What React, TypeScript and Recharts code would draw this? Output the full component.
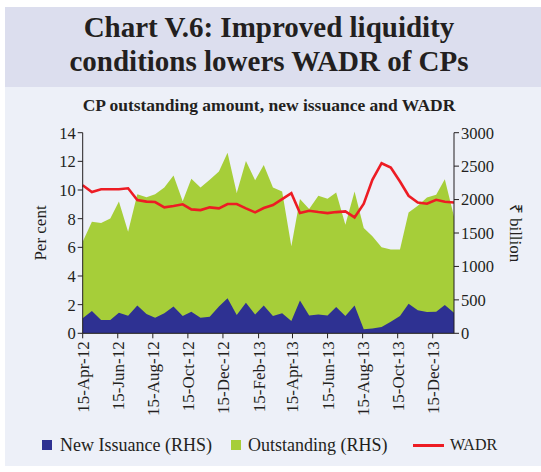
import { ComposedChart, Area, Line, XAxis, YAxis } from "recharts";

// fortnightly observation dates
const dates = [
    "2012-04-15", "2012-05-01", "2012-05-17", "2012-06-02", "2012-06-17", "2012-07-03",
    "2012-07-19", "2012-08-04", "2012-08-19", "2012-09-04", "2012-09-20", "2012-10-06",
    "2012-10-21", "2012-11-06", "2012-11-22", "2012-12-08", "2012-12-23", "2013-01-08",
    "2013-01-24", "2013-02-09", "2013-02-24", "2013-03-12", "2013-03-28", "2013-04-13",
    "2013-04-28", "2013-05-14", "2013-05-30", "2013-06-15", "2013-06-30", "2013-07-16",
    "2013-08-01", "2013-08-17", "2013-09-01", "2013-09-17", "2013-10-03", "2013-10-19",
    "2013-11-03", "2013-11-19", "2013-12-05", "2013-12-21", "2014-01-05", "2014-01-21",
];

// ₹ billion
const newIssuance = [
    224, 334, 199, 199, 309, 264, 414, 289, 234, 299, 399, 259, 324, 234, 249, 399, 523, 274, 458, 280,
    417, 258, 298, 184, 492, 268, 283, 268, 392, 258, 417, 60, 70, 94, 174, 258, 442, 343, 318, 323, 422, 308,
];

const outstanding = [
    1370, 1670, 1650, 1715, 1970, 1520, 2080, 2035, 2080, 2180, 2360, 1975, 2310, 2180, 2295, 2420, 2700, 2100, 2575, 2290,
    2518, 2180, 2120, 1300, 2007, 1858, 2056, 2011, 2106, 1624, 2121, 1575, 1450, 1286, 1252, 1252, 1808, 1907, 2031, 2071, 2305, 1748,
];

// per cent
const wadr = [
    10.33, 9.86, 10.05, 10.05, 10.05, 10.12, 9.3, 9.19, 9.16, 8.79, 8.88, 9.0, 8.65, 8.6, 8.79, 8.72, 9.02, 9.02, 8.72, 8.44,
    8.74, 8.95, 9.36, 9.78, 8.39, 8.55, 8.46, 8.39, 8.46, 8.51, 8.09, 9.04, 10.71, 11.87, 11.57, 10.59, 9.6, 9.13, 9.04, 9.32, 9.18, 9.13,
];

const tickLabels = [
    "15-Apr-12", "15-Jun-12", "15-Aug-12", "15-Oct-12", "15-Dec-12", "15-Feb-13",
    "15-Apr-13", "15-Jun-13", "15-Aug-13", "15-Oct-13", "15-Dec-13",
];

const leftTicks = [0, 2, 4, 6, 8, 10, 12, 14];
const rightTicks = [0, 500, 1000, 1500, 2000, 2500, 3000];

const months = ["Jan", "Feb", "Mar", "Apr", "May", "Jun", "Jul", "Aug", "Sep", "Oct", "Nov", "Dec"];

const parseLabel = (s: string) => {
    const [d, m, y] = s.split("-");
    return Date.UTC(2000 + Number(y), months.indexOf(m), Number(d));
};

const xTicks = tickLabels.map(parseLabel);

const data = dates.map((d, i) => ({
    t: Date.parse(d + "T00:00:00Z"),
    ni: newIssuance[i],
    os: outstanding[i],
    wadr: wadr[i],
}));

const FONT = "'Liberation Serif', 'Times New Roman', serif";
const INK = "#231f20";

const DateTick = (props: any) => {
    const { x, y, payload } = props;
    const idx = xTicks.indexOf(payload.value);
    return (
        <g transform={`translate(${x},${y})`}>
            <text
                transform="rotate(-90)"
                x={-1}
                dy="0.35em"
                textAnchor="end"
                fill={INK}
                fontSize={17}
                fontFamily={FONT}
            >
                {tickLabels[idx]}
            </text>
        </g>
    );
};

const axisStyle = { fill: INK, fontSize: 16.5, fontFamily: FONT };

export default function App() {
    return (
        <div style={{ position: "absolute", left: 0, top: 0, width: 541, height: 472, background: "#fff", fontFamily: FONT }}>
            <div style={{ position: "absolute", left: 5, top: 7, width: 536, height: 80, background: "#dcdeee" }} />
            <div style={{ position: "absolute", left: 5, top: 87, width: 536, height: 379, background: "#edf0f8" }} />

            <div
                style={{
                    position: "absolute", left: 5, top: 10, width: 528, textAlign: "center",
                    fontSize: 29, lineHeight: "34px", fontWeight: "bold", color: INK,
                }}
            >
                Chart V.6: Improved liquidity
                <br />
                conditions lowers WADR of CPs
            </div>
            <div
                style={{
                    position: "absolute", left: 5, top: 95, width: 528, textAlign: "center",
                    fontSize: 17.5, lineHeight: "20px", fontWeight: "bold", color: INK,
                }}
            >
                CP outstanding amount, new issuance and WADR
            </div>

            <div style={{ position: "absolute", left: 0, top: 0 }}>
                <ComposedChart
                    width={541}
                    height={472}
                    data={data}
                    margin={{ top: 132.7, right: 7, bottom: 58.7, left: 22.7 }}
                >
                    <XAxis
                        dataKey="t"
                        type="number"
                        domain={["dataMin", "dataMax"]}
                        ticks={xTicks}
                        interval={0}
                        height={80}
                        tick={<DateTick />}
                        tickSize={5}
                        tickMargin={2}
                        stroke={INK}
                    />
                    <YAxis
                        yAxisId="left"
                        domain={[0, 14]}
                        ticks={leftTicks}
                        interval={0}
                        width={60}
                        tickSize={5}
                        tickMargin={2}
                        stroke={INK}
                        tick={axisStyle}
                        label={{
                            value: "Per cent", angle: -90, position: "insideLeft", offset: 17,
                            style: { textAnchor: "middle", fill: INK, fontSize: 17, fontFamily: FONT },
                        }}
                    />
                    <YAxis
                        yAxisId="right"
                        orientation="right"
                        domain={[0, 3000]}
                        ticks={rightTicks}
                        interval={0}
                        width={80}
                        tickSize={5}
                        tickMargin={2}
                        stroke={INK}
                        tick={axisStyle}
                        label={{
                            value: "₹ billion", angle: 90, position: "insideRight", offset: 18,
                            style: { textAnchor: "middle", fill: INK, fontSize: 17, fontFamily: FONT },
                        }}
                    />
                    <Area
                        yAxisId="right"
                        type="linear"
                        dataKey="os"
                        fill="#a6ce39"
                        fillOpacity={1}
                        stroke="none"
                        isAnimationActive={false}
                        activeDot={false}
                    />
                    <Area
                        yAxisId="right"
                        type="linear"
                        dataKey="ni"
                        fill="#2e3192"
                        fillOpacity={1}
                        stroke="none"
                        isAnimationActive={false}
                        activeDot={false}
                    />
                    <Line
                        yAxisId="left"
                        type="linear"
                        dataKey="wadr"
                        stroke="#ed1c24"
                        strokeWidth={2.6}
                        dot={false}
                        isAnimationActive={false}
                        activeDot={false}
                    />
                </ComposedChart>
            </div>

            <div style={{ position: "absolute", left: 42, top: 440, width: 10, height: 10, background: "#2e3192" }} />
            <div style={{ position: "absolute", left: 60, top: 434, fontSize: 18, lineHeight: "22px", color: INK }}>
                New Issuance (RHS)
            </div>
            <div style={{ position: "absolute", left: 231, top: 440, width: 10, height: 10, background: "#a6ce39" }} />
            <div style={{ position: "absolute", left: 248, top: 434, fontSize: 18, lineHeight: "22px", color: INK }}>
                Outstanding (RHS)
            </div>
            <div style={{ position: "absolute", left: 413, top: 444, width: 31, height: 3, background: "#ed1c24" }} />
            <div style={{ position: "absolute", left: 450, top: 435, fontSize: 16, lineHeight: "20px", color: INK }}>
                WADR
            </div>
        </div>
    );
}
